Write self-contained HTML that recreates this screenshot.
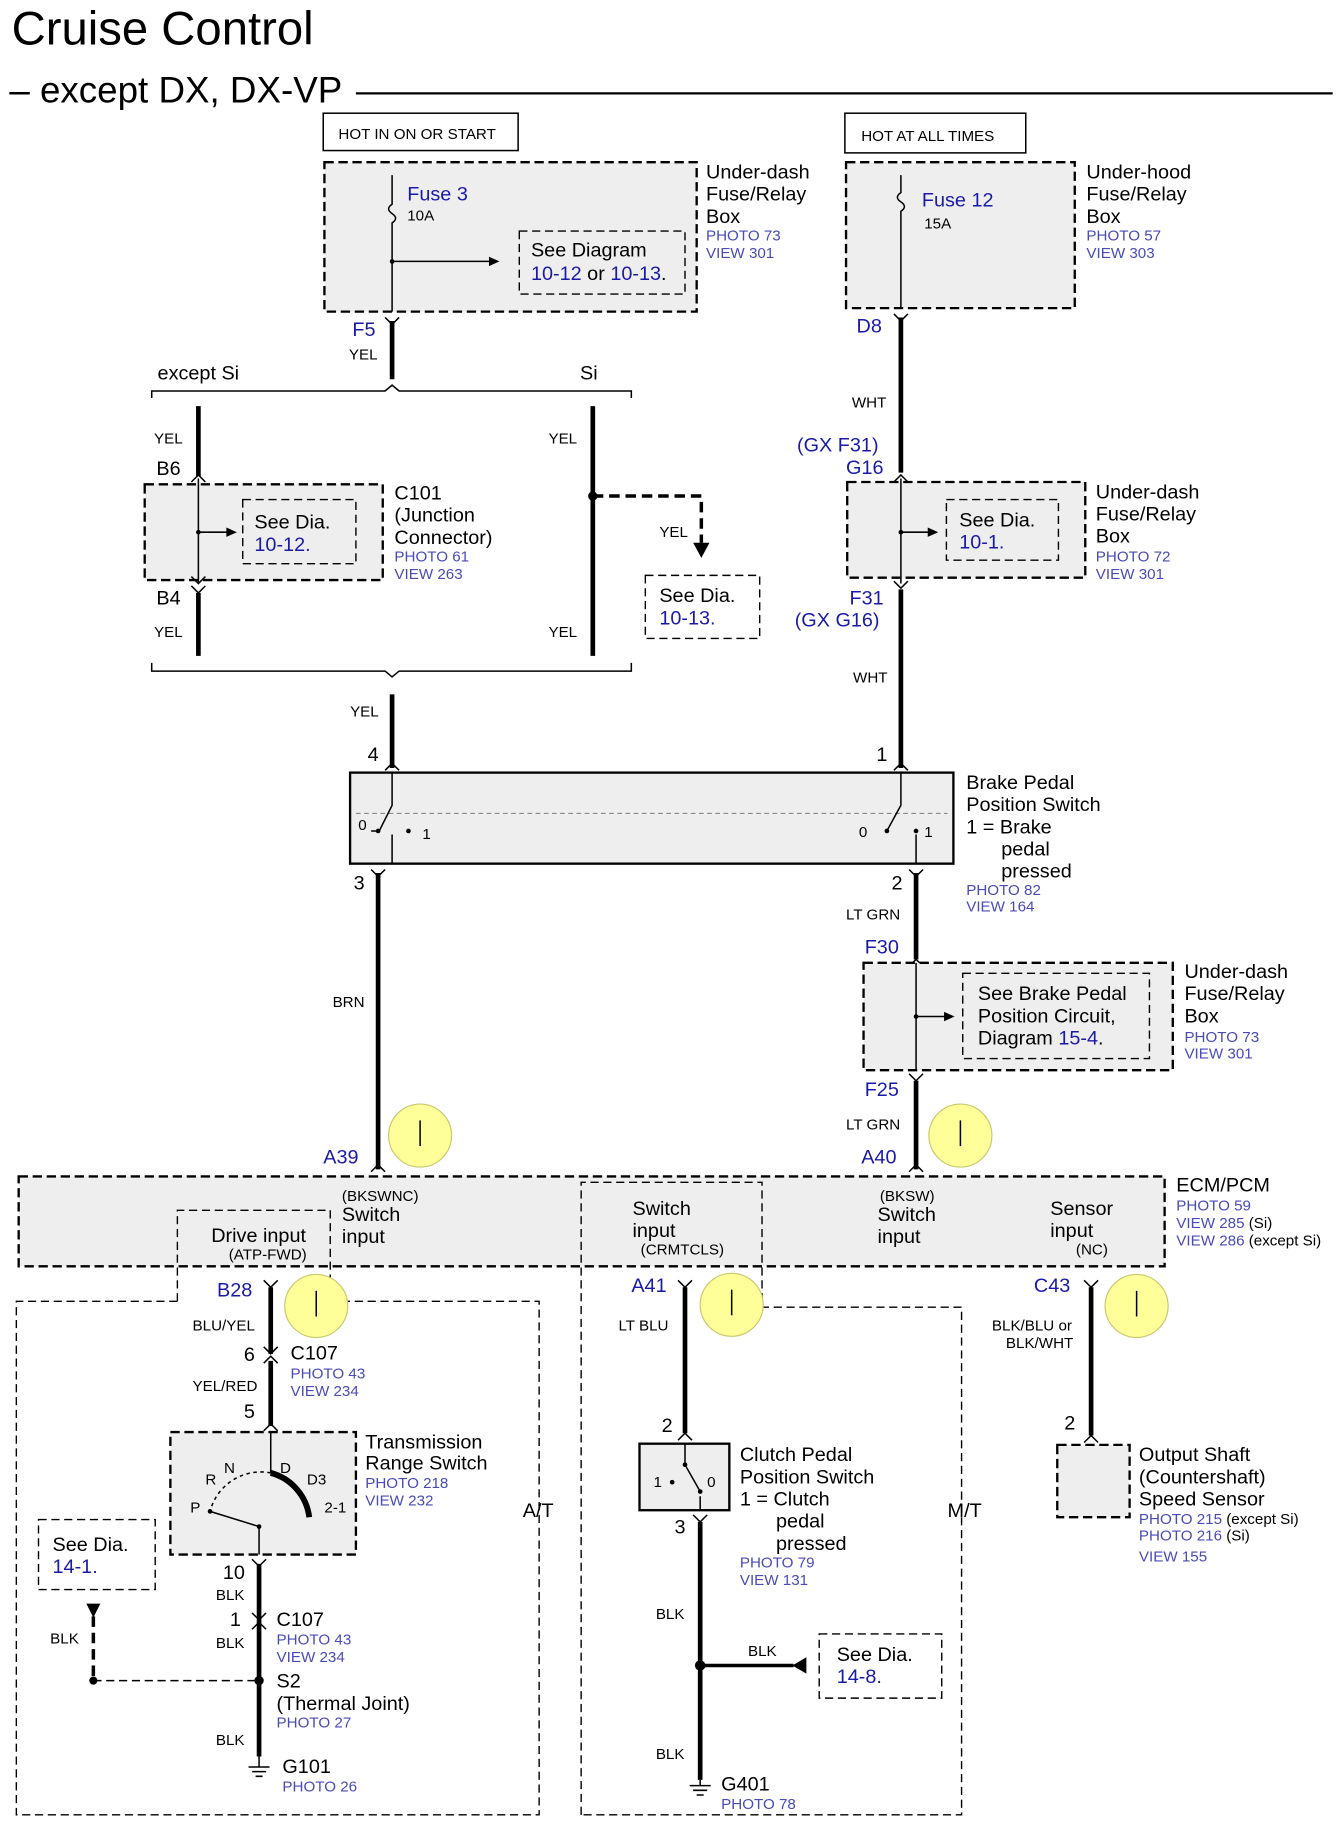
<!DOCTYPE html>
<html><head><meta charset="utf-8"><style>
html,body{margin:0;padding:0;background:#fff}
svg{display:block}
text{font-family:"Liberation Sans",sans-serif;fill:#000}
.l{font-size:17px}.s{font-size:13px}.b{fill:#1a1aa8}.p{font-size:13px;fill:#4a4ab8}
.d{fill:#eee;stroke:#000;stroke-width:2;stroke-dasharray:8 4}
.dn{fill:none;stroke:#000;stroke-width:1.2;stroke-dasharray:7 4}
.w{stroke:#000;stroke-width:4;fill:none}
.t{stroke:#000;stroke-width:1.3;fill:none}
.g{stroke:#888;stroke-width:1;fill:none;stroke-dasharray:4 3}
.y{fill:#ffff99;stroke:#c8c870;stroke-width:1}
</style></head><body>
<svg width="1342" height="1830" viewBox="0 0 1150 1568" preserveAspectRatio="none" xmlns="http://www.w3.org/2000/svg">
<text x="10" y="38" style="font-size:40.5px">Cruise Control</text>
<text x="8" y="88" style="font-size:31.5px">– except DX, DX-VP</text>
<line x1="305" y1="80" x2="1142" y2="80" stroke="#000" stroke-width="2"/>

<!-- top left -->
<rect x="277" y="97" width="167" height="32" fill="#fff" stroke="#000" stroke-width="1.3"/>
<text x="290" y="119" class="s">HOT IN ON OR START</text>
<rect x="278" y="139" width="319" height="128" class="d"/>
<path class="t" d="M336 150V175 q-6 4 0 8 q6 4 0 8V267"/>
<text x="349" y="172" class="l b">Fuse 3</text><text x="349" y="189" class="s">10A</text>
<line x1="336" y1="224" x2="420" y2="224" class="t"/><path d="M428 224l-9-4v8z"/>
<circle cx="336" cy="224" r="2"/>
<rect x="445" y="198" width="142" height="54" class="dn" style="fill:none"/>
<text x="455" y="220" class="l">See Diagram</text>
<text x="455" y="240" class="l"><tspan class="b">10-12</tspan> or <tspan class="b">10-13</tspan>.</text>
<text x="605" y="153" class="l">Under-dash</text><text x="605" y="172" class="l">Fuse/Relay</text><text x="605" y="191" class="l">Box</text>
<text x="605" y="206" class="p">PHOTO 73</text><text x="605" y="221" class="p">VIEW 301</text>
<text x="302" y="288" class="l b">F5</text><text x="299" y="308" class="s">YEL</text>
<line x1="336" y1="275" x2="336" y2="325" class="w"/><path class="t" d="M330 272l6 6 6-6"/>
<path d="M130 341V335H330l6-5 6 5H541V341" class="t" stroke-width="2"/>
<text x="135" y="325" class="l">except Si</text><text x="497" y="325" class="l">Si</text>

<line x1="170" y1="348" x2="170" y2="408" class="w"/>
<text x="132" y="380" class="s">YEL</text><text x="134" y="407" class="l">B6</text>
<rect x="124" y="415" width="204" height="82" class="d"/>
<path class="t" d="M164 413l6-6 6 6M170 410V500M164 494l6 6 6-6"/>
<line x1="170" y1="456" x2="195" y2="456" class="t"/><path d="M203 456l-9-4v8z"/><circle cx="170" cy="456" r="2"/>
<rect x="208" y="428" width="97" height="55" class="dn"/>
<text x="218" y="453" class="l">See Dia.</text><text x="218" y="472" class="l b">10-12.</text>
<text x="338" y="428" class="l">C101</text><text x="338" y="447" class="l">(Junction</text><text x="338" y="466" class="l">Connector)</text>
<text x="338" y="481" class="p">PHOTO 61</text><text x="338" y="496" class="p">VIEW 263</text>
<text x="134" y="518" class="l">B4</text><text x="132" y="546" class="s">YEL</text>
<line x1="170" y1="508" x2="170" y2="562" class="w"/><path class="t" d="M164 502l6 6 6-6"/>

<line x1="508" y1="348" x2="508" y2="562" class="w"/>
<text x="470" y="380" class="s">YEL</text><text x="470" y="546" class="s">YEL</text>
<circle cx="508" cy="425" r="4"/>
<path d="M508 425H601V465" stroke="#000" stroke-width="3" fill="none" stroke-dasharray="9 5"/>
<path d="M594 465h14l-7 13z"/>
<text x="565" y="460" class="s">YEL</text>
<rect x="553" y="493" width="98" height="54" class="dn"/>
<text x="565" y="516" class="l">See Dia.</text><text x="565" y="535" class="l b">10-13.</text>
<path d="M130 568V575H330l6 5 6-5H541V568" class="t" stroke-width="2"/>
<line x1="336" y1="595" x2="336" y2="658" class="w"/><path class="t" d="M330 660l6-6 6 6"/>
<text x="300" y="614" class="s">YEL</text><text x="315" y="652" class="l">4</text>

<!-- top right -->
<rect x="724" y="97" width="155" height="34" fill="#fff" stroke="#000" stroke-width="1.3"/>
<text x="738" y="121" class="s">HOT AT ALL TIMES</text>
<rect x="725" y="139" width="196" height="125" class="d"/>
<path class="t" d="M772 150V165 q-6 4 0 8 q6 4 0 8V264"/>
<text x="790" y="177" class="l b">Fuse 12</text><text x="792" y="196" class="s">15A</text>
<text x="931" y="153" class="l">Under-hood</text><text x="931" y="172" class="l">Fuse/Relay</text><text x="931" y="191" class="l">Box</text>
<text x="931" y="206" class="p">PHOTO 57</text><text x="931" y="221" class="p">VIEW 303</text>
<text x="734" y="285" class="l b">D8</text>
<line x1="772" y1="272" x2="772" y2="405" class="w"/><path class="t" d="M766 269l6 6 6-6M766 413l6-6 6 6"/>
<text x="730" y="349" class="s">WHT</text>
<text x="683" y="387" class="l b">(GX F31)</text><text x="725" y="406" class="l b">G16</text>
<rect x="726" y="413" width="204" height="82" class="d"/>
<line x1="772" y1="410" x2="772" y2="500" class="t"/>
<line x1="772" y1="456" x2="796" y2="456" class="t"/><path d="M804 456l-9-4v8z"/><circle cx="772" cy="456" r="2"/>
<rect x="811" y="428" width="96" height="52" class="dn"/>
<text x="822" y="451" class="l">See Dia.</text><text x="822" y="470" class="l b">10-1.</text>
<text x="939" y="427" class="l">Under-dash</text><text x="939" y="446" class="l">Fuse/Relay</text><text x="939" y="465" class="l">Box</text>
<text x="939" y="481" class="p">PHOTO 72</text><text x="939" y="496" class="p">VIEW 301</text>
<text x="728" y="518" class="l b">F31</text><text x="681" y="537" class="l b">(GX G16)</text>
<path class="t" d="M766 498l6 6 6-6"/>
<line x1="772" y1="505" x2="772" y2="658" class="w"/><path class="t" d="M766 660l6-6 6 6"/>
<text x="731" y="585" class="s">WHT</text><text x="751" y="652" class="l">1</text>

<!-- brake switch -->
<rect x="300" y="662" width="517" height="78" fill="#eee" stroke="#000" stroke-width="2"/>
<line x1="305" y1="697" x2="812" y2="697" class="g"/>
<path class="t" d="M336 662V690L325 712M318 712h6M324 712M336 715V740"/><circle cx="324" cy="712" r="2"/><circle cx="350" cy="712" r="2"/>
<text x="307" y="711" class="s">0</text><text x="362" y="719" class="s">1</text>
<path class="t" d="M772 662V690L760 712M785 715V740"/><circle cx="760" cy="712" r="2"/><circle cx="785" cy="712" r="2"/>
<text x="736" y="717" class="s">0</text><text x="792" y="717" class="s">1</text>
<text x="828" y="676" class="l">Brake Pedal</text><text x="828" y="695" class="l">Position Switch</text>
<text x="828" y="714" class="l">1 = Brake</text><text x="858" y="733" class="l">pedal</text><text x="858" y="752" class="l">pressed</text>
<text x="828" y="767" class="p">PHOTO 82</text><text x="828" y="781" class="p">VIEW 164</text>
<text x="303" y="762" class="l">3</text><path class="t" d="M318 745l6 6 6-6"/>
<line x1="324" y1="748" x2="324" y2="1002" class="w"/>
<text x="285" y="863" class="s">BRN</text>
<text x="764" y="762" class="l">2</text><path class="t" d="M779 745l6 6 6-6"/>
<line x1="785" y1="748" x2="785" y2="822" class="w"/><path class="t" d="M779 828l6-6 6 6"/>
<text x="725" y="788" class="s">LT GRN</text><text x="741" y="817" class="l b">F30</text>
<rect x="740" y="825" width="265" height="92" class="d"/>
<line x1="785" y1="825" x2="785" y2="917" class="t"/>
<line x1="785" y1="871" x2="810" y2="871" class="t"/><path d="M818 871l-9-4v8z"/><circle cx="785" cy="871" r="2"/>
<rect x="825" y="834" width="160" height="73" class="dn"/>
<text x="838" y="857" class="l">See Brake Pedal</text><text x="838" y="876" class="l">Position Circuit,</text>
<text x="838" y="895" class="l">Diagram <tspan class="b">15-4</tspan>.</text>
<text x="1015" y="838" class="l">Under-dash</text><text x="1015" y="857" class="l">Fuse/Relay</text><text x="1015" y="876" class="l">Box</text>
<text x="1015" y="893" class="p">PHOTO 73</text><text x="1015" y="907" class="p">VIEW 301</text>
<text x="741" y="939" class="l b">F25</text><path class="t" d="M779 920l6 6 6-6"/>
<line x1="785" y1="926" x2="785" y2="1002" class="w"/>
<text x="725" y="968" class="s">LT GRN</text>
<text x="738" y="997" class="l b">A40</text><text x="277" y="997" class="l b">A39</text>
<path class="t" d="M318 1004l6-6 6 6M779 1004l6-6 6 6"/>

<!-- ECM -->
<rect x="16" y="1008" width="982" height="77" class="d"/>
<text x="1008" y="1021" class="l">ECM/PCM</text><text x="1008" y="1037" class="p">PHOTO 59</text>
<text x="1008" y="1052" class="p">VIEW 285 <tspan style="fill:#000">(Si)</tspan></text>
<text x="1008" y="1067" class="p">VIEW 286 <tspan style="fill:#000">(except Si)</tspan></text>
<text x="293" y="1029" class="s">(BKSWNC)</text><text x="293" y="1046" class="l">Switch</text><text x="293" y="1065" class="l">input</text>
<text x="181" y="1064" class="l">Drive input</text><text x="196" y="1079" class="s">(ATP-FWD)</text>
<text x="542" y="1041" class="l">Switch</text><text x="542" y="1060" class="l">input</text><text x="549" y="1075" class="s">(CRMTCLS)</text>
<text x="754" y="1029" class="s">(BKSW)</text><text x="752" y="1046" class="l">Switch</text><text x="752" y="1065" class="l">input</text>
<text x="900" y="1041" class="l">Sensor</text><text x="900" y="1060" class="l">input</text><text x="922" y="1075" class="s">(NC)</text>

<circle cx="360" cy="973" r="27" class="y"/><line x1="360" y1="960" x2="360" y2="982" class="t" stroke-width="2"/>
<circle cx="823" cy="973" r="27" class="y"/><line x1="823" y1="960" x2="823" y2="982" class="t" stroke-width="2"/>

<!-- region outlines -->
<path class="dn" d="M152 1115V1037H283V1115H462V1555H14V1115H152"/>
<path class="dn" d="M498 1555V1013H653V1120H824V1555Z"/>
<text x="448" y="1300" class="l">A/T</text><text x="812" y="1300" class="l">M/T</text>

<circle cx="271" cy="1119" r="27" class="y"/><line x1="271" y1="1106" x2="271" y2="1128" class="t" stroke-width="2"/>
<circle cx="627" cy="1118" r="27" class="y"/><line x1="627" y1="1105" x2="627" y2="1127" class="t" stroke-width="2"/>
<circle cx="974" cy="1119" r="27" class="y"/><line x1="974" y1="1106" x2="974" y2="1128" class="t" stroke-width="2"/>

<!-- A/T -->
<text x="186" y="1111" class="l b">B28</text>
<path class="t" d="M226 1097l6 6 6-6"/>
<line x1="232" y1="1103" x2="232" y2="1160" class="w"/>
<text x="165" y="1140" class="s">BLU/YEL</text>
<text x="209" y="1166" class="l">6</text><path class="t" d="M238 1154l-6 6-6-6M238 1168l-6-6-6 6" />
<text x="249" y="1165" class="l">C107</text><text x="249" y="1181" class="p">PHOTO 43</text><text x="249" y="1196" class="p">VIEW 234</text>
<line x1="232" y1="1166" x2="232" y2="1222" class="w"/>
<text x="165" y="1192" class="s">YEL/RED</text><text x="209" y="1215" class="l">5</text>
<path class="t" d="M226 1226l6-6 6 6"/>
<rect x="146" y="1227" width="159" height="105" class="d"/>
<line x1="232" y1="1227" x2="232" y2="1262" class="t"/>
<path d="M232 1262 A45 45 0 0 1 265 1300" stroke="#000" stroke-width="5" fill="none"/>
<path d="M232 1262 A45 45 0 0 0 180 1295" class="t" stroke-dasharray="3 3"/>
<line x1="180" y1="1295" x2="222" y2="1308" class="t"/><circle cx="180" cy="1295" r="2"/><circle cx="222" cy="1308" r="2"/>
<line x1="222" y1="1308" x2="222" y2="1332" class="t"/>
<text x="176" y="1272" class="s">R</text><text x="192" y="1262" class="s">N</text><text x="163" y="1296" class="s">P</text>
<text x="240" y="1262" class="s">D</text><text x="263" y="1272" class="s">D3</text><text x="278" y="1296" class="s">2-1</text>
<text x="313" y="1241" class="l">Transmission</text><text x="313" y="1259" class="l">Range Switch</text>
<text x="313" y="1275" class="p">PHOTO 218</text><text x="313" y="1290" class="p">VIEW 232</text>
<path class="t" d="M216 1336l6 6 6-6"/>
<line x1="222" y1="1340" x2="222" y2="1505" class="w"/>
<text x="191" y="1353" class="l">10</text><text x="185" y="1371" class="s">BLK</text>
<text x="197" y="1393" class="l">1</text><path class="t" d="M216 1382l6 6 6-6M216 1396l6-6 6 6"/>
<text x="237" y="1393" class="l">C107</text><text x="237" y="1409" class="p">PHOTO 43</text><text x="237" y="1424" class="p">VIEW 234</text>
<text x="185" y="1412" class="s">BLK</text>
<circle cx="222" cy="1440" r="4"/>
<text x="237" y="1446" class="l">S2</text><text x="237" y="1465" class="l">(Thermal Joint)</text><text x="237" y="1480" class="p">PHOTO 27</text>
<text x="185" y="1495" class="s">BLK</text>
<path class="t" d="M222 1505V1514M213 1514h18M216 1518h12M219 1522h6" stroke-width="2"/>
<text x="242" y="1519" class="l">G101</text><text x="242" y="1535" class="p">PHOTO 26</text>
<rect x="33" y="1302" width="100" height="60" class="dn"/>
<text x="45" y="1329" class="l">See Dia.</text><text x="45" y="1348" class="l b">14-1.</text>
<path d="M74 1374h12l-6 12z"/>
<line x1="80" y1="1385" x2="80" y2="1440" stroke="#000" stroke-width="3" stroke-dasharray="9 5"/>
<text x="43" y="1408" class="s">BLK</text>
<line x1="80" y1="1440" x2="222" y2="1440" class="dn"/><circle cx="80" cy="1440" r="3.5"/>

<!-- M/T -->
<text x="541" y="1107" class="l b">A41</text>
<path class="t" d="M581 1097l6 6 6-6M581 1234l6-6 6 6"/>
<line x1="587" y1="1103" x2="587" y2="1228" class="w"/>
<text x="530" y="1140" class="s">LT BLU</text><text x="567" y="1227" class="l">2</text>
<rect x="548" y="1237" width="77" height="57" fill="#eee" stroke="#000" stroke-width="2"/>
<path class="t" d="M587 1237V1255L600 1278M600 1282V1294"/><circle cx="587" cy="1255" r="2"/><circle cx="576" cy="1270" r="2"/><circle cx="600" cy="1278" r="2"/>
<text x="560" y="1274" class="s">1</text><text x="606" y="1274" class="s">0</text>
<text x="578" y="1314" class="l">3</text><path class="t" d="M594 1298l6 6 6-6"/>
<line x1="600" y1="1304" x2="600" y2="1525" class="w"/>
<text x="634" y="1252" class="l">Clutch Pedal</text><text x="634" y="1271" class="l">Position Switch</text>
<text x="634" y="1290" class="l">1 = Clutch</text><text x="665" y="1309" class="l">pedal</text><text x="665" y="1328" class="l">pressed</text>
<text x="634" y="1343" class="p">PHOTO 79</text><text x="634" y="1358" class="p">VIEW 131</text>
<text x="562" y="1387" class="s">BLK</text>
<circle cx="600" cy="1427" r="4.5"/>
<line x1="600" y1="1427" x2="680" y2="1427" stroke="#000" stroke-width="3"/><path d="M679 1427l12-7v14z"/>
<text x="641" y="1419" class="s">BLK</text>
<rect x="702" y="1400" width="105" height="55" class="dn"/>
<text x="717" y="1423" class="l">See Dia.</text><text x="717" y="1442" class="l b">14-8.</text>
<text x="562" y="1507" class="s">BLK</text>
<path class="t" d="M600 1525V1530M591 1530h18M594 1534h12M597 1538h6" stroke-width="2"/>
<text x="618" y="1534" class="l">G401</text><text x="618" y="1550" class="p">PHOTO 78</text>

<!-- sensor -->
<text x="886" y="1107" class="l b">C43</text>
<path class="t" d="M929 1097l6 6 6-6M929 1236l6-6 6 6"/>
<line x1="935" y1="1103" x2="935" y2="1230" class="w"/>
<text x="850" y="1140" class="s">BLK/BLU or</text><text x="862" y="1155" class="s">BLK/WHT</text>
<text x="912" y="1225" class="l">2</text>
<rect x="906" y="1238" width="62" height="62" class="d"/>
<text x="976" y="1252" class="l">Output Shaft</text><text x="976" y="1271" class="l">(Countershaft)</text><text x="976" y="1290" class="l">Speed Sensor</text>
<text x="976" y="1306" class="p">PHOTO 215 <tspan style="fill:#000">(except Si)</tspan></text>
<text x="976" y="1320" class="p">PHOTO 216 <tspan style="fill:#000">(Si)</tspan></text>
<text x="976" y="1338" class="p">VIEW 155</text>
</svg>
</body></html>
